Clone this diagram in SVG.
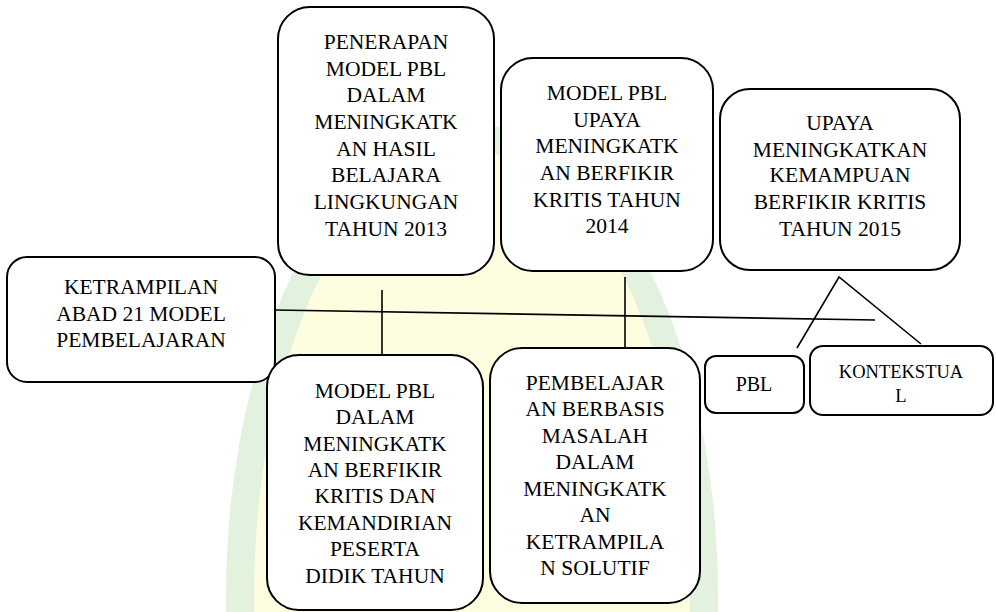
<svg xmlns="http://www.w3.org/2000/svg" width="996" height="612" viewBox="0 0 996 612">
<style>
.box{fill:#fff;stroke:#000;stroke-width:2}
text{font-family:'Liberation Serif','Times New Roman','DejaVu Serif',serif;font-size:21.5px;fill:#000;text-anchor:middle}
.s{font-size:18.5px}
.c{stroke:#000;stroke-width:1.6;fill:none}
</style>
<rect width="996" height="612" fill="#fff"/>
<g id="watermark">
<path d="M226,612 L226,597 A246,473 0 0 1 718,597 L718,612 Z" fill="#e2f2df"/>
<path d="M254,612 L254,597 A218,445 0 0 1 690,597 L690,612 Z" fill="#fefde0"/>
</g>
<g id="connectors">
<line class="c" x1="275" y1="310" x2="875" y2="320"/>
<line class="c" x1="382" y1="290" x2="382" y2="362"/>
<line class="c" x1="625" y1="277" x2="625" y2="347"/>
<polyline class="c" points="797,348 839,277 921,344"/>
</g>
<g id="n1">
<rect class="box" x="278" y="7" width="216" height="268" rx="32"/>
<text><tspan x="386" y="49">PENERAPAN</tspan><tspan x="386" y="76">MODEL PBL</tspan><tspan x="386" y="102">DALAM</tspan><tspan x="386" y="129">MENINGKATK</tspan><tspan x="386" y="156">AN HASIL</tspan><tspan x="386" y="182">BELAJARA</tspan><tspan x="386" y="209">LINGKUNGAN</tspan><tspan x="386" y="236">TAHUN 2013</tspan></text>
</g>
<g id="n2">
<rect class="box" x="501" y="58" width="212" height="213" rx="32"/>
<text><tspan x="607" y="100">MODEL PBL</tspan><tspan x="607" y="126.5">UPAYA</tspan><tspan x="607" y="153">MENINGKATK</tspan><tspan x="607" y="180">AN BERFIKIR</tspan><tspan x="607" y="206.5">KRITIS TAHUN</tspan><tspan x="607" y="233">2014</tspan></text>
</g>
<g id="n3">
<rect class="box" x="720" y="89" width="240" height="181" rx="30"/>
<text><tspan x="840" y="130">UPAYA</tspan><tspan x="840" y="156.5">MENINGKATKAN</tspan><tspan x="840" y="182">KEMAMPUAN</tspan><tspan x="840" y="209">BERFIKIR KRITIS</tspan><tspan x="840" y="235.5">TAHUN 2015</tspan></text>
</g>
<g id="n4">
<rect class="box" x="7" y="257" width="268" height="125" rx="20"/>
<text><tspan x="141" y="294">KETRAMPILAN</tspan><tspan x="141" y="320.5">ABAD 21 MODEL</tspan><tspan x="141" y="347">PEMBELAJARAN</tspan></text>
</g>
<g id="n5">
<rect class="box" x="267" y="355" width="216" height="255" rx="32"/>
<text><tspan x="375" y="398">MODEL PBL</tspan><tspan x="375" y="424">DALAM</tspan><tspan x="375" y="451">MENINGKATK</tspan><tspan x="375" y="477">AN BERFIKIR</tspan><tspan x="375" y="503">KRITIS DAN</tspan><tspan x="375" y="530">KEMANDIRIAN</tspan><tspan x="375" y="556">PESERTA</tspan><tspan x="375" y="583">DIDIK TAHUN</tspan></text>
</g>
<g id="n6">
<rect class="box" x="490" y="348" width="210" height="255" rx="32"/>
<text><tspan x="595" y="390">PEMBELAJAR</tspan><tspan x="595" y="416">AN BERBASIS</tspan><tspan x="595" y="443">MASALAH</tspan><tspan x="595" y="469">DALAM</tspan><tspan x="595" y="496">MENINGKATK</tspan><tspan x="595" y="522">AN</tspan><tspan x="595" y="549">KETRAMPILA</tspan><tspan x="595" y="575">N SOLUTIF</tspan></text>
</g>
<g id="n7">
<rect class="box" x="705" y="356" width="99" height="57" rx="11"/>
<text x="754" y="391" style="font-size:20px">PBL</text>
</g>
<g id="n8">
<rect class="box" x="810" y="346" width="183" height="69" rx="13"/>
<text class="s"><tspan x="901" y="378">KONTEKSTUA</tspan><tspan x="901" y="402">L</tspan></text>
</g>
</svg>
